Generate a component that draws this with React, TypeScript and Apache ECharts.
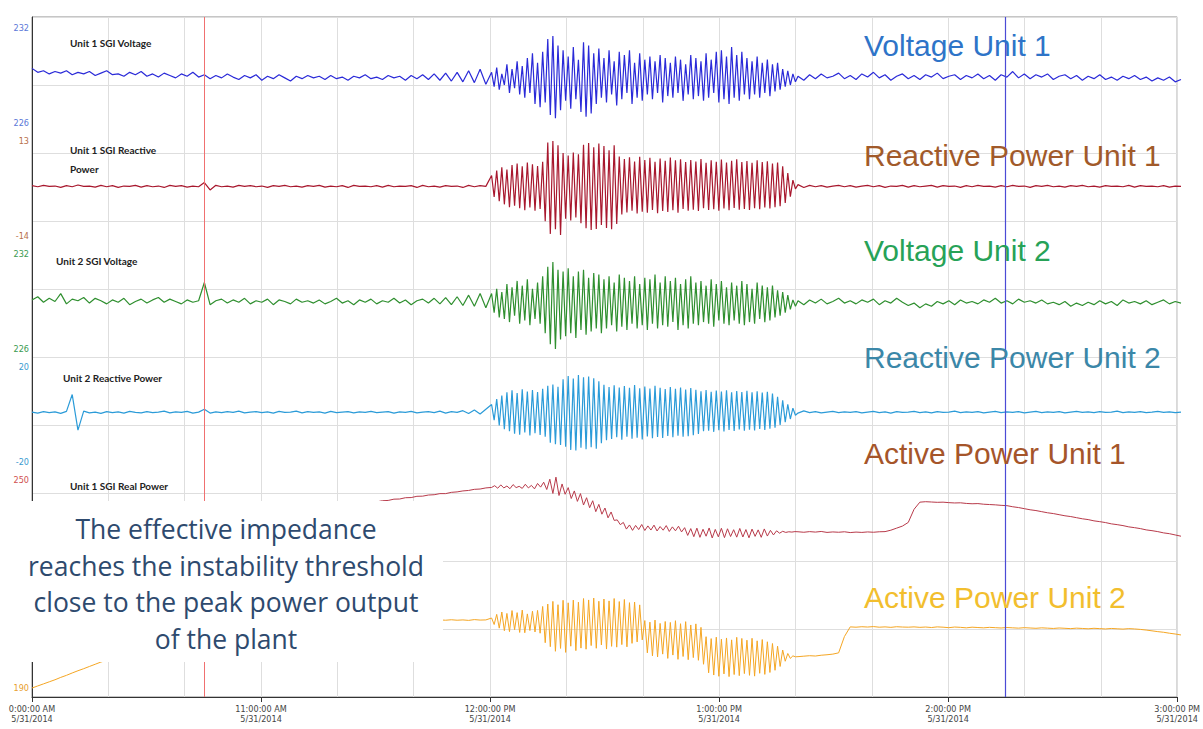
import { useEffect, useRef } from 'react';
import * as echarts from 'echarts';

// Time axis: minutes after 10:00 AM. Each trace is stored as three segments:
// the quiet morning, the oscillation episode and the quiet afternoon.
const PRE_START = 0;
const OSC_START = 120;
const POST_START = 200;
const END_MIN = 300;

const xTickLabels = ['0:00:00 AM', '11:00:00 AM', '12:00:00 PM', '1:00:00 PM', '2:00:00 PM', '3:00:00 PM'];
const dateLabel = '5/31/2014';
const cursorMinutes = [45, 255];

// ---- Unit 1 SGI Voltage (V) ----
const volt1Pre = [
  229.45, 229.2, 229.3, 229.1, 229.25, 229.15, 229.3, 229.05, 229.2, 229.1,
  229.25, 229.0, 229.15, 229.3, 229.05, 229.1, 228.95, 229.2, 229.05, 229.25,
  228.95, 229.1, 228.9, 229.15, 229.0, 228.85, 229.1, 228.95, 229.2, 228.9,
  229.05, 228.8, 229.0, 228.85, 229.1, 228.9, 228.75, 229.0, 228.85, 229.05,
  228.7, 228.95, 228.8, 229.05, 228.85, 228.65, 228.95, 228.8, 229.0, 228.85,
  228.95, 228.75, 229.0, 228.8, 228.9, 228.7, 228.95, 228.85, 229.05, 228.8,
  228.9, 228.75, 229.0, 228.85, 228.95, 228.7, 229.0, 228.8, 229.05, 228.75,
  229.1, 228.7, 229.15, 228.65, 229.2, 228.6, 229.3, 228.55, 229.4, 228.45,
];
const volt1Osc = [
  229.2, 228.3, 229.5, 228.1, 229.1, 228.4, 229.7, 227.9, 229.4, 228.2,
  229.9, 227.8, 229.6, 227.6, 230.1, 227.9, 230.4, 227.2, 229.8, 227.0,
  230.5, 227.3, 231.3, 226.5, 231.5, 226.3, 230.9, 226.8, 230.6, 227.4,
  230.2, 226.9, 230.8, 227.5, 230.0, 226.7, 231.1, 226.4, 230.9, 226.6,
  230.4, 227.2, 230.7, 227.6, 230.1, 227.3, 230.6, 227.8, 229.9, 227.1,
  230.5, 227.5, 230.3, 227.9, 230.6, 227.2, 229.8, 227.6, 230.4, 227.4,
  230.0, 227.8, 230.2, 227.5, 229.9, 227.9, 230.3, 227.3, 230.1, 227.7,
  229.8, 227.6, 230.2, 227.9, 230.0, 227.4, 229.7, 227.8, 230.3, 227.5,
  230.1, 227.7, 229.9, 227.4, 230.4, 227.6, 230.0, 227.9, 230.5, 227.3,
  230.6, 227.5, 230.2, 227.2, 230.8, 227.6, 230.3, 227.4, 230.5, 227.8,
  230.1, 227.5, 229.9, 227.8, 230.2, 227.6, 229.8, 227.9, 230.0, 227.7,
  229.7, 228.0, 229.8, 228.1, 229.4, 228.3, 229.3, 228.4, 229.1, 228.6,
];
const volt1Post = [
  228.95, 228.7, 229.05, 228.8, 229.1, 228.85, 228.95, 229.15, 228.8, 229.0,
  228.75, 229.1, 228.9, 229.2, 228.85, 229.05, 228.7, 228.95, 229.1, 228.8,
  229.0, 228.75, 229.05, 228.9, 229.15, 228.8, 228.95, 229.05, 228.75, 229.0,
  228.85, 229.1, 228.8, 229.0, 228.7, 229.05, 228.9, 229.25, 228.85, 229.1,
  228.8, 229.05, 228.9, 229.1, 228.75, 228.95, 229.05, 228.8, 229.0, 228.7,
  228.95, 228.8, 229.05, 228.75, 228.9, 228.7, 228.95, 228.8, 229.0, 228.75,
  228.9, 228.65, 228.85, 228.7, 228.9, 228.6, 228.75,
];

// ---- Unit 1 SGI Reactive Power ----
const react1Pre = [
  0.3, 0.0, 0.4, 0.1, 0.2, -0.2, 0.3, 0.0, 0.5, 0.1,
  0.2, -0.1, 0.4, 0.0, 0.3, -0.2, 0.2, 0.1, 0.4, -0.1,
  0.3, 0.0, 0.2, -0.2, 0.4, 0.1, 0.3, -0.1, 0.2, 0.0,
  1.2, -0.9, 0.4, 0.0, 0.2, -0.1, 0.4, 0.1, 0.3, 0.0,
  0.2, -0.2, 0.3, 0.1, 0.4, 0.0, 0.2, -0.1, 0.3, 0.1,
  0.4, -0.1, 0.2, 0.0, 0.3, -0.2, 0.4, 0.1, 0.2, 0.0,
  0.3, -0.1, 0.4, 0.0, 0.2, 0.1, 0.3, -0.2, 0.4, 0.0,
  0.2, -0.1, 0.3, 0.1, 0.2, -0.2, 0.4, 0.0, 0.3, 0.1,
];
const react1Osc = [
  3.2, -2.9, 4.6, -4.1, 5.5, -5.0, 4.9, -5.8, 6.2, -5.4,
  6.6, -6.1, 5.8, -6.7, 6.9, -5.9, 6.4, -6.8, 5.9, -6.3,
  7.1, -9.8, 12.6, -13.4, 13.0, -12.1, 11.8, -13.7, 9.6, -9.1,
  8.9, -9.6, 9.7, -8.7, 9.2, -10.4, 11.9, -11.8, 12.4, -12.3,
  11.2, -12.0, 12.3, -10.9, 11.6, -11.7, 10.4, -12.1, 11.8, -10.6,
  8.6, -7.9, 7.9, -7.3, 8.4, -6.8, 7.2, -7.6, 8.5, -7.1,
  7.6, -7.4, 8.2, -6.6, 7.1, -7.5, 8.0, -6.9, 7.4, -7.2,
  8.3, -6.7, 7.5, -7.4, 7.8, -6.3, 7.0, -6.8, 7.6, -6.5,
  7.2, -6.9, 7.9, -6.1, 6.8, -6.6, 7.5, -6.4, 7.1, -6.8,
  7.7, -6.2, 6.9, -6.7, 7.4, -6.0, 7.8, -6.5, 7.0, -6.3,
  7.3, -6.6, 6.8, -6.1, 7.5, -6.4, 7.0, -5.9, 7.2, -6.2,
  6.6, -5.8, 6.9, -5.5, 5.8, -4.6, 3.9, -2.8, 1.9, -0.6,
];
const react1Post = [
  0.6, -0.2, 0.4, 0.0, 0.3, -0.1, 0.2, 0.4, 0.0, 0.3,
  -0.1, 0.2, 0.4, 0.0, 0.3, -0.2, 0.2, 0.1, 0.4, -0.1,
  0.3, 0.0, 0.2, 0.4, -0.1, 0.3, 0.1, 0.2, -0.2, 0.3,
  0.0, 0.4, 0.1, 0.2, -0.1, 0.3, 0.0, 0.4, 0.1, 0.2,
  -0.2, 0.3, 0.1, 0.4, 0.0, 0.2, -0.1, 0.3, 0.1, 0.4,
  0.0, 0.2, -0.1, 0.3, 0.1, 0.2, 0.0, 0.4, -0.1, 0.3,
  0.1, 0.2, 0.0, 0.3, -0.1, 0.2, 0.1,
];

// ---- Unit 2 SGI Voltage (V) ----
const volt2Pre = [
  229.1, 229.3, 228.95, 229.2, 229.0, 229.5, 228.85, 229.15, 229.05, 229.25,
  228.9, 229.2, 229.05, 228.85, 229.1, 228.95, 229.2, 228.8, 229.0, 229.15,
  228.9, 229.1, 229.25, 228.95, 229.15, 229.0, 228.85, 229.1, 228.95, 229.05,
  230.2, 228.8, 229.05, 229.15, 228.9, 229.1, 228.95, 229.2, 228.85, 229.05,
  228.95, 229.15, 228.8, 229.1, 229.0, 228.85, 229.15, 228.95, 229.05, 228.9,
  229.1, 228.85, 229.0, 229.2, 228.9, 229.05, 228.8, 229.1, 228.95, 229.15,
  228.85, 229.05, 228.95, 229.2, 228.9, 229.1, 228.8, 229.05, 229.15, 228.9,
  229.2, 228.85, 229.25, 228.8, 229.3, 228.75, 229.4, 228.7, 229.5, 228.6,
];
const volt2Osc = [
  229.5, 228.3, 229.8, 228.0, 229.6, 227.9, 230.1, 227.7, 229.9, 228.1,
  230.3, 227.6, 230.0, 227.8, 230.4, 227.5, 229.8, 227.9, 230.2, 227.6,
  230.6, 227.0, 231.2, 226.3, 231.5, 226.0, 231.0, 226.6, 230.9, 226.8,
  231.1, 227.0, 230.6, 226.7, 230.9, 227.2, 231.0, 226.9, 230.5, 227.1,
  230.8, 227.3, 230.7, 227.0, 230.4, 227.3, 230.6, 227.5, 230.2, 227.1,
  230.7, 227.4, 230.5, 227.2, 230.3, 227.6, 230.6, 227.3, 230.1, 227.5,
  230.5, 227.2, 230.4, 227.6, 230.7, 227.3, 230.2, 227.5, 230.6, 227.4,
  230.3, 227.7, 230.5, 227.2, 230.1, 227.5, 230.4, 227.3, 230.6, 227.6,
  230.2, 227.5, 230.3, 227.7, 230.0, 227.6, 230.4, 227.4, 230.1, 227.8,
  230.3, 227.6, 229.9, 227.5, 230.2, 227.8, 230.0, 227.6, 230.3, 227.5,
  230.1, 227.7, 229.8, 227.6, 230.2, 227.9, 230.0, 227.7, 229.9, 227.8,
  230.0, 228.0, 229.7, 228.1, 229.6, 228.3, 229.4, 228.5, 229.1, 228.7,
];
const volt2Post = [
  229.05, 228.8, 229.1, 228.9, 229.15, 228.85, 229.0, 229.2, 228.9, 229.05,
  228.85, 229.1, 228.95, 229.15, 228.8, 229.05, 228.9, 229.2, 228.95, 228.75,
  228.9, 228.6, 228.85, 228.7, 229.0, 228.85, 229.05, 228.8, 229.1, 228.9,
  229.0, 228.85, 229.1, 228.95, 229.2, 228.9, 229.05, 228.85, 229.15, 228.95,
  229.05, 228.9, 229.1, 228.85, 228.95, 228.8, 229.0, 228.7, 228.9, 228.75,
  228.95, 228.8, 229.05, 228.85, 229.0, 228.75, 229.1, 228.9, 229.0, 228.85,
  229.05, 228.8, 228.95, 229.1, 228.85, 229.0, 228.9,
];

// ---- Unit 2 Reactive Power ----
const react2Pre = [
  1.0, 0.6, 1.2, 0.8, 1.1, 0.5, 1.3, 8.4, -6.6, 1.4,
  0.7, 1.0, 0.5, 1.2, 0.8, 1.1, 0.6, 1.3, 0.9, 0.7,
  1.2, 0.8, 1.0, 1.4, 0.7, 1.1, 0.9, 1.3, 0.6, 1.0,
  2.2, 0.6, 1.1, 0.8, 1.2, 0.9, 1.4, 0.7, 1.0, 1.2,
  0.8, 1.1, 0.6, 1.3, 0.9, 1.0, 1.4, 0.7, 1.2, 0.9,
  1.1, 0.6, 1.3, 0.8, 1.0, 1.2, 0.7, 1.1, 0.9, 1.3,
  0.8, 1.0, 1.2, 0.6, 1.1, 0.9, 1.3, 0.7, 1.0, 1.2,
  0.8, 1.4, 0.6, 1.2, 0.9, 1.6, 0.4, 1.9, 0.2, 2.2,
];
const react2Osc = [
  4.2, -2.4, 6.5, -4.6, 8.0, -6.2, 9.4, -7.0, 10.2, -8.1,
  9.0, -8.5, 10.6, -7.6, 9.7, -8.8, 10.3, -7.9, 9.5, -8.6,
  10.8, -9.4, 12.1, -11.9, 12.6, -12.5, 11.7, -12.8, 14.8, -13.6,
  16.2, -14.9, 15.1, -15.2, 16.6, -14.0, 15.7, -14.6, 16.0, -13.8,
  15.3, -14.4, 14.0, -12.1, 12.5, -10.8, 11.6, -10.3, 12.3, -9.6,
  11.4, -10.6, 12.0, -9.4, 11.2, -10.2, 12.4, -9.8, 11.0, -10.5,
  11.8, -9.2, 10.9, -10.0, 12.1, -9.5, 11.3, -9.9, 10.7, -9.0,
  11.6, -9.6, 10.8, -8.9, 11.4, -9.4, 10.5, -9.1, 11.1, -8.7,
  10.4, -8.2, 9.8, -7.0, 10.3, -6.8, 9.6, -7.3, 10.1, -6.6,
  9.7, -7.1, 10.2, -6.5, 9.4, -6.9, 9.9, -6.3, 9.5, -6.8,
  10.0, -6.4, 9.3, -6.7, 9.8, -6.1, 9.2, -6.5, 9.6, -6.0,
  8.8, -5.6, 7.5, -4.4, 6.0, -3.2, 4.3, -1.9, 2.7, -0.3,
];
const react2Post = [
  0.6, 1.5, 0.8, 1.2, 0.7, 1.0, 1.3, 0.8, 1.1, 0.9,
  1.2, 0.7, 1.0, 1.3, 0.8, 1.1, 0.6, 1.2, 0.9, 1.0,
  1.3, 0.8, 1.1, 0.7, 1.2, 0.9, 1.0, 1.4, 0.8, 1.1,
  0.9, 1.2, 0.7, 1.0, 1.3, 0.8, 1.1, 0.9, 1.2, 0.7,
  1.0, 1.3, 0.8, 1.1, 0.9, 1.2, 0.7, 1.0, 1.3, 0.9,
  1.1, 0.8, 1.2, 0.9, 1.0, 1.4, 0.8, 1.1, 0.9, 1.2,
  0.8, 1.0, 1.3, 0.9, 1.1, 0.8, 1.0,
];

// ---- Unit 1 SGI Real Power ----
const active1Pre = [
  209.2, 209.6, 210.1, 210.3, 210.9, 211.2, 211.8, 212.1, 212.5, 213.1,
  213.4, 214.0, 214.3, 214.9, 215.2, 215.8, 216.1, 216.7, 217.0, 217.6,
  217.9, 218.5, 218.8, 219.4, 219.7, 220.3, 220.6, 221.2, 221.5, 222.1,
  222.4, 223.0, 223.3, 223.9, 224.2, 224.8, 225.1, 225.7, 226.0, 226.6,
  226.9, 227.5, 227.8, 228.4, 228.7, 229.3, 229.6, 230.2, 230.5, 231.1,
  231.4, 232.0, 232.3, 232.9, 233.2, 233.8, 234.1, 234.7, 235.0, 235.6,
  236.2, 236.9, 237.1, 237.9, 238.0, 238.8, 238.9, 239.7, 239.8, 240.5,
  240.7, 241.4, 241.4, 242.2, 242.5, 243.1, 243.4, 244.1, 244.3, 245.0,
];
const active1Osc = [
  245.3, 246.4, 244.8, 246.9, 245.0, 246.2, 244.5, 247.1, 245.2, 246.0,
  244.7, 247.3, 245.0, 246.6, 244.4, 247.8, 245.5, 248.6, 244.0, 250.5,
  241.5, 251.8, 240.2, 247.5, 241.0, 245.2, 238.3, 243.1, 236.5, 241.4,
  234.2, 238.8, 232.5, 236.9, 230.0, 234.6, 228.4, 232.3, 226.1, 229.8,
  224.5, 224.8, 221.8, 223.2, 219.0, 221.6, 218.2, 221.3, 218.7, 221.9,
  218.1, 221.0, 218.4, 221.5, 217.8, 220.6, 218.3, 221.2, 217.5, 220.4,
  217.9, 220.8, 217.2, 219.9, 215.0, 219.3, 214.2, 219.6, 213.8, 218.9,
  214.5, 219.7, 213.4, 218.8, 214.1, 219.5, 213.6, 219.2, 214.3, 218.6,
  213.9, 219.4, 214.0, 218.7, 213.5, 219.0, 214.4, 218.5, 213.8, 219.1,
  214.6, 218.2, 215.3, 217.9, 216.4, 217.6, 216.9, 217.3, 217.1, 217.4,
];
const active1Post = [
  217.3, 217.0, 217.4, 217.1, 217.5, 216.9, 217.2, 217.0, 217.3, 216.8,
  217.1, 216.9, 217.2, 217.0, 217.3, 217.4, 218.3, 219.6, 220.9, 223.2,
  231.5, 236.0, 236.3, 236.1, 235.9, 236.0, 235.7, 235.5, 235.6, 235.2,
  235.0, 235.1, 234.7, 234.5, 234.3, 234.0, 233.8, 233.1, 232.6, 231.9,
  231.2, 230.7, 230.0, 229.3, 228.8, 228.1, 227.4, 226.9, 226.2, 225.5,
  225.0, 224.2, 223.7, 223.1, 222.3, 221.8, 221.2, 220.4, 219.9, 219.3,
  218.5, 218.0, 217.4, 216.6, 216.1, 215.3, 214.5,
];

// ---- Unit 2 Real Power ----
const active2Pre = [
  190.0, 191.3, 192.6, 193.9, 195.2, 196.7, 198.0, 199.5, 200.9, 202.2,
  203.6, 205.0, 206.4, 207.5, 208.5, 209.4, 210.3, 211.1, 211.9, 212.6,
  213.3, 214.0, 214.6, 215.3, 216.0, 216.6, 217.2, 217.8, 218.4, 219.0,
  219.5, 220.1, 220.6, 221.2, 221.7, 222.2, 222.7, 223.2, 223.6, 224.1,
  224.5, 225.0, 225.4, 225.8, 226.2, 226.6, 227.0, 227.3, 227.7, 228.0,
  228.4, 228.7, 229.0, 229.3, 229.6, 229.9, 230.2, 230.5, 230.7, 231.0,
  231.2, 231.5, 231.7, 231.9, 232.1, 232.3, 232.5, 232.6, 232.7, 232.8,
  232.9, 233.0, 232.8, 233.1, 232.8, 233.0, 232.7, 233.2, 232.9, 233.0,
];
const active2Osc = [
  234.2, 230.1, 236.5, 227.8, 238.0, 226.2, 237.1, 225.6, 238.9, 226.8,
  237.6, 225.1, 239.2, 224.9, 236.8, 226.3, 238.5, 225.4, 239.0, 224.6,
  241.5, 218.6, 243.0, 216.1, 244.7, 213.2, 242.6, 215.0, 245.4, 212.5,
  243.8, 216.4, 245.5, 213.6, 244.2, 215.2, 246.5, 214.5, 245.6, 216.8,
  246.8, 215.1, 244.8, 217.2, 246.2, 214.6, 245.0, 216.3, 246.5, 215.8,
  244.6, 217.4, 245.9, 216.0, 243.9, 218.2, 244.3, 219.1, 242.5, 220.4,
  232.6, 212.2, 231.6, 210.3, 232.9, 209.6, 230.8, 211.4, 232.0, 208.7,
  231.4, 210.8, 232.5, 208.1, 230.6, 209.9, 231.9, 207.9, 229.8, 209.2,
  230.5, 207.5, 228.3, 205.0, 222.4, 199.6, 221.2, 198.2, 222.1, 197.4,
  220.8, 198.9, 221.6, 197.2, 220.4, 198.5, 222.0, 197.8, 221.3, 199.1,
  220.2, 198.0, 221.4, 197.5, 219.8, 199.3, 220.6, 198.6, 219.2, 199.8,
  218.1, 201.2, 216.4, 203.6, 214.0, 206.9, 211.8, 208.7, 210.3, 209.7,
];
const active2Post = [
  209.8, 210.1, 210.4, 210.2, 210.7, 211.0, 211.4, 212.2, 222.5, 228.6,
  228.4, 228.7, 228.5, 228.8, 228.4, 228.6, 228.3, 228.7, 228.5, 228.4,
  228.6, 228.3, 228.5, 228.2, 228.6, 228.4, 228.1, 228.5, 228.3, 228.0,
  228.4, 228.2, 228.0, 228.3, 228.1, 227.9, 228.2, 228.0, 227.8, 228.1,
  227.9, 227.7, 228.0, 227.8, 227.6, 227.9, 227.7, 227.5, 227.8, 227.6,
  227.4, 227.7, 227.5, 227.3, 227.6, 227.4, 227.2, 227.5, 227.3, 227.0,
  226.6, 226.1, 225.6, 225.2, 224.6, 224.1, 223.5,
];

// Attach sample times (minutes after 10:00) to the three segments of a trace.
function stamp(pre: number[], osc: number[], post: number[]): [number, number][] {
  const out: [number, number][] = [];
  pre.forEach((v, i) => out.push([PRE_START + (i * (OSC_START - PRE_START)) / pre.length, v]));
  osc.forEach((v, i) => out.push([OSC_START + (i * (POST_START - OSC_START)) / osc.length, v]));
  post.forEach((v, i) => out.push([POST_START + (i * (END_MIN - POST_START)) / (post.length - 1), v]));
  return out;
}

const NARROW = '"Liberation Sans Narrow", "DejaVu Sans Condensed", "Arial Narrow", sans-serif';
const PLOT_LEFT = 32;
const PLOT_RIGHT = 22;
const BAND_TOPS = [28, 141, 254, 367, 480, 593];
const BAND_HEIGHT = 95;

const TRACES = [
  { data: stamp(volt1Pre, volt1Osc, volt1Post), min: 226, max: 232, color: '#2a2ad8', axisColor: '#5a78d8', width: 1.2 },
  { data: stamp(react1Pre, react1Osc, react1Post), min: -14, max: 13, color: '#a8182e', axisColor: '#b8704a', width: 1.2 },
  { data: stamp(volt2Pre, volt2Osc, volt2Post), min: 226, max: 232, color: '#2f8f2f', axisColor: '#3a9a50', width: 1.2 },
  { data: stamp(react2Pre, react2Osc, react2Post), min: -20, max: 20, color: '#2b9bd8', axisColor: '#3a9ad0', width: 1.2 },
  { data: stamp(active1Pre, active1Osc, active1Post), min: 190, max: 250, color: '#b83a4a', axisColor: '#d05050', width: 1 },
  { data: stamp(active2Pre, active2Osc, active2Post), min: 190, max: 250, color: '#f5a623', axisColor: '#e8a030', width: 1 },
];

const RIGHT_TITLES = [
  { text: 'Voltage Unit 1', y: 45, color: '#2e74c8' },
  { text: 'Reactive Power Unit 1', y: 155, color: '#a15a2a' },
  { text: 'Voltage Unit 2', y: 250, color: '#27a257' },
  { text: 'Reactive Power Unit 2', y: 357, color: '#3b87a8' },
  { text: 'Active Power Unit 1', y: 453, color: '#a5552a' },
  { text: 'Active Power Unit 2', y: 597, color: '#f2be2e' },
];

const TAG_LABELS = [
  { text: 'Unit 1 SGI Voltage', x: 70, y: 43 },
  { text: 'Unit 1 SGI Reactive', x: 70, y: 150 },
  { text: 'Power', x: 70, y: 169 },
  { text: 'Unit 2 SGI Voltage', x: 56, y: 261 },
  { text: 'Unit 2 Reactive Power', x: 63, y: 378 },
  { text: 'Unit 1 SGI Real Power', x: 70, y: 486 },
];

const NOTE_LINES = [
  'The effective impedance',
  'reaches the instability threshold',
  'close to the peak power output',
  'of the plant',
];

export default function App() {
  const ref = useRef<HTMLDivElement>(null);

  useEffect(() => {
    if (!ref.current) return;
    const chart = echarts.init(ref.current, null, { renderer: 'svg' });

    const grids: any[] = [
      { left: PLOT_LEFT, right: PLOT_RIGHT, top: 17, bottom: 32, show: true, borderColor: '#8c8c8c', borderWidth: 1 },
    ];
    const xAxes: any[] = [
      {
        gridIndex: 0,
        type: 'value',
        min: PRE_START,
        max: END_MIN,
        interval: 60,
        axisLine: { show: true, lineStyle: { color: '#333', width: 1 } },
        axisTick: { show: true, length: 5, lineStyle: { color: '#333' } },
        axisLabel: {
          showMinLabel: true,
          showMaxLabel: true,
          fontSize: 9,
          lineHeight: 10,
          margin: 7,
          color: '#444',
          fontFamily: NARROW,
          formatter: (v: number) => `${xTickLabels[Math.round(v / 60)]}\n${dateLabel}`,
        },
        splitLine: { show: true, lineStyle: { color: '#dedede', width: 1 } },
        minorTick: { show: false, splitNumber: 3 },
        minorSplitLine: { show: true, lineStyle: { color: '#dedede', width: 1 } },
      },
    ];
    const yAxes: any[] = [
      {
        gridIndex: 0,
        type: 'value',
        min: 0,
        max: 10,
        interval: 1,
        axisLine: { show: true, lineStyle: { color: '#333', width: 1 } },
        axisTick: { show: false },
        axisLabel: { show: false },
        splitLine: { show: true, lineStyle: { color: '#dedede', width: 1 } },
      },
    ];
    const series: any[] = [
      {
        type: 'line',
        xAxisIndex: 0,
        yAxisIndex: 0,
        data: [],
        silent: true,
        markLine: {
          silent: true,
          symbol: 'none',
          label: { show: false },
          data: [
            { xAxis: cursorMinutes[0], lineStyle: { color: '#f07070', width: 1, type: 'solid' } },
            { xAxis: cursorMinutes[1], lineStyle: { color: '#4b4bd6', width: 1.2, type: 'solid' } },
          ],
        },
      },
    ];

    TRACES.forEach((tr, i) => {
      const gi = i + 1;
      grids.push({ left: PLOT_LEFT, right: PLOT_RIGHT, top: BAND_TOPS[i], height: BAND_HEIGHT });
      xAxes.push({ gridIndex: gi, type: 'value', min: PRE_START, max: END_MIN, show: false });
      yAxes.push({
        gridIndex: gi,
        type: 'value',
        min: tr.min,
        max: tr.max,
        interval: tr.max - tr.min,
        axisLine: { show: false },
        axisTick: { show: false },
        splitLine: { show: false },
        axisLabel: {
          showMinLabel: true,
          showMaxLabel: true,
          color: tr.axisColor,
          fontSize: 9,
          margin: 3,
          fontFamily: NARROW,
        },
      });
      series.push({
        type: 'line',
        xAxisIndex: gi,
        yAxisIndex: gi,
        data: tr.data,
        showSymbol: false,
        symbol: 'none',
        clip: false,
        silent: true,
        z: 3,
        lineStyle: { color: tr.color, width: tr.width },
      });
    });

    const graphic: any[] = [];
    RIGHT_TITLES.forEach((t) => {
      graphic.push({
        type: 'text',
        x: 864,
        y: t.y,
        z: 50,
        style: {
          text: t.text,
          fill: t.color,
          font: '30px "Liberation Sans", Arial, sans-serif',
          align: 'left',
          textAlign: 'left',
          verticalAlign: 'middle',
          textVerticalAlign: 'middle',
        },
      });
    });
    TAG_LABELS.forEach((t) => {
      graphic.push({
        type: 'text',
        x: t.x,
        y: t.y,
        z: 50,
        style: {
          text: t.text,
          fill: '#222',
          font: 'bold 10px Lato, "Open Sans", sans-serif',
          align: 'left',
          textAlign: 'left',
          verticalAlign: 'middle',
          textVerticalAlign: 'middle',
        },
      });
    });
    // Annotation panel that sits over the left part of the two power traces
    graphic.push({
      type: 'rect',
      z: 100,
      shape: { x: 0, y: 501, width: 443, height: 161 },
      style: { fill: '#ffffff' },
    });
    NOTE_LINES.forEach((line, i) => {
      graphic.push({
        type: 'text',
        x: 226,
        y: 529 + i * 36.5,
        z: 101,
        style: {
          text: line,
          fill: '#2e4a6e',
          font: '26.5px "Open Sans", sans-serif',
          align: 'center',
          textAlign: 'center',
          verticalAlign: 'middle',
          textVerticalAlign: 'middle',
        },
      });
    });

    chart.setOption({
      animation: false,
      backgroundColor: '#ffffff',
      grid: grids,
      xAxis: xAxes,
      yAxis: yAxes,
      series,
      graphic,
    });

    return () => chart.dispose();
  }, []);

  return (
    <div
      ref={ref}
      style={{ position: 'fixed', left: 0, top: 0, width: 1203, height: 729, background: '#fff' }}
    />
  );
}
